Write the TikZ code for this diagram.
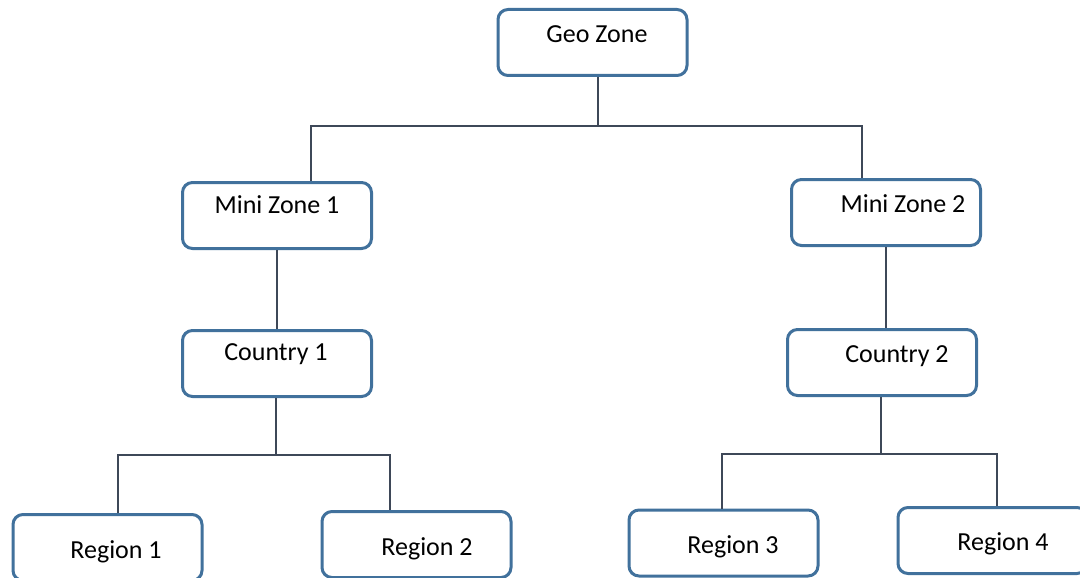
\documentclass[tikz,border=0pt]{standalone}
\usepackage{fontspec}
\setmainfont{Carlito}
\definecolor{boxblue}{RGB}{65,113,156}
\definecolor{connc}{RGB}{62,72,88}
\begin{document}
\begin{tikzpicture}[x=1pt,y=-1pt,
  box/.style={draw=boxblue, line width=3pt, rounded corners=10pt, minimum width=189pt, minimum height=66pt, inner sep=0pt, fill=white},
  lbl/.style={font=\fontsize{26}{31}\selectfont, text=black, anchor=base, inner sep=0pt},
  conn/.style={draw=connc, line width=2.5pt}]
\fill[white] (0,0) rectangle (1080,578);
\useasboundingbox (0,0) rectangle (1080,578);
% boxes
\node[box] (geo) at (592.5,42.5) {};
\node[box] (mz1) at (277,215.5) {};
\node[box] (mz2) at (886,212.5) {};
\node[box] (c1) at (277,363.5) {};
\node[box] (c2) at (882,362.5) {};
\node[box] (r1) at (107.5,547.5) {};
\node[box] (r2) at (416.5,544.5) {};
\node[box] (r3) at (723.5,543) {};
\node[box] (r4) at (992.5,540.5) {};
% labels
\node[lbl] (tgeo) at (597,43) {Geo Zone};
\node[lbl] (tmz1) at (277,213) {Mini Zone 1};
\node[lbl] (tmz2) at (903,212) {Mini Zone 2};
\node[lbl] (tc1) at (276,360) {Country 1};
\node[lbl] (tc2) at (897,362) {Country 2};
\node[lbl] (tr1) at (116,558) {Region 1};
\node[lbl] (tr2) at (427,555) {Region 2};
\node[lbl] (tr3) at (733,553) {Region 3};
\node[lbl] (tr4) at (1003,550) {Region 4};
% junctions
\coordinate (a) at (598,126);
\coordinate (aL) at (311,126);
\coordinate (aR) at (862,126);
\coordinate (b) at (276,455);
\coordinate (bL) at (118,455);
\coordinate (bR) at (390,455);
\coordinate (c) at (881,454);
\coordinate (cL) at (722,454);
\coordinate (cR) at (997,454);
% connectors
\draw[conn] (a |- geo.south) -- (a);
\draw[conn] (aL |- mz1.north) -- (aL) -- (aR) -- (aR |- mz2.north);
\draw[conn] (mz1.south) -- (c1.north);
\draw[conn] (mz2.south) -- (mz2.south |- c2.north);
\draw[conn] (b |- c1.south) -- (b);
\draw[conn] (bL |- r1.north) -- (bL) -- (bR) -- (bR |- r2.north);
\draw[conn] (c |- c2.south) -- (c);
\draw[conn] (cL |- r3.north) -- (cL) -- (cR) -- (cR |- r4.north);
\end{tikzpicture}
\end{document}
